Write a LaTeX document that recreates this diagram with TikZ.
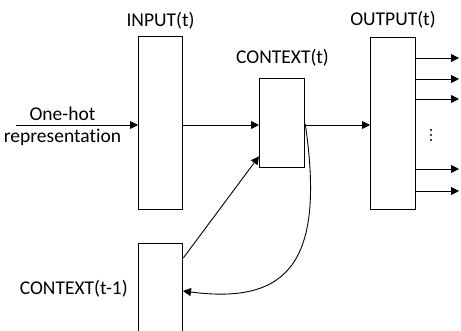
\documentclass[tikz,border=0pt]{standalone}
\usepackage{fontspec}
\setmainfont{Carlito}[Ligatures=NoCommon]
\usetikzlibrary{arrows.meta}
\begin{document}
\begin{tikzpicture}[x=1pt,y=-1pt,
  box/.style={draw,line width=1.3pt,minimum width=44pt,inner sep=0pt,anchor=north west},
  lbl/.style={font=\fontsize{19.5}{22}\selectfont,inner sep=0pt,anchor=base},
  conn/.style={line width=0.9pt,-{Triangle[length=8pt,width=8pt]}},
  dot/.style={circle,fill,inner sep=0pt,minimum size=2.2pt}]
\useasboundingbox (0,0) rectangle (461,331);
\clip (0,0) rectangle (461,331);
\node[box,minimum height=173pt] (in) at (138,36) {};
\node[box,minimum width=45pt,minimum height=89pt] (ctx) at (259,78) {};
\node[box,minimum width=45pt,minimum height=172pt] (out) at (370,37) {};
\node[box,minimum height=110pt] (prev) at (138,243) {};
\node[lbl] (tin) at (160.5,27) {INPUT(t)};
\node[lbl] (tctx) at (282.5,64) {CONTEXT(t)};
\node[lbl] (tout) at (393,26) {OUTPUT(t)};
\node[lbl,anchor=base east] (tprev) at (128,295) {CONTEXT(t-1)};
\node[lbl,align=center,anchor=center] (hot) at (62.5,126) {One-hot\\representation};
\coordinate (mid) at (0,125);
\coordinate (src) at (16,125);
\draw[conn] (src) -- (in.west |- mid);
\draw[conn] (in.east |- mid) -- (ctx.west |- mid);
\draw[conn] (ctx.east |- mid) -- (out.west |- mid);
\foreach \y [count=\i] in {58,79,99,169,191} {
  \coordinate (o\i) at (459,\y);
  \draw[conn] (out.east |- o\i) -- (o\i);
}
\node[dot] (d1) at (431,130) {};
\node[dot] (d2) at (431,135) {};
\node[dot] (d3) at (431,140) {};
\draw[conn] ([yshift=-15pt]prev.north east) -- ([yshift=12pt]ctx.south west);
\coordinate (ret) at (183,291);
\draw[conn] ([yshift=-1pt]ctx.east) .. controls (325,260) and (290,305) .. (ret);
\end{tikzpicture}
\end{document}
